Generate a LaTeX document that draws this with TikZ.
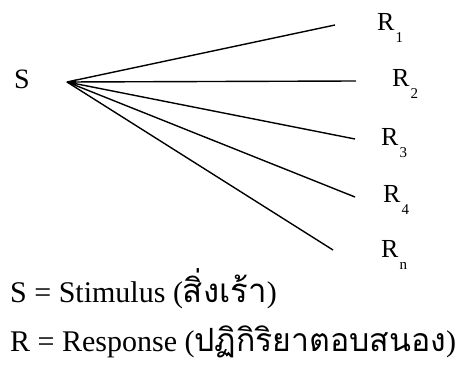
\documentclass[tikz,border=0pt]{standalone}
\usepackage{fontspec}
\setmainfont{Liberation Serif}
\newfontfamily\thaifont[Script=Thai]{Loma}
\newcommand{\rsub}[1]{\hspace{1pt}\raisebox{-0.45em}{\fontsize{15}{15}\selectfont #1}}
\begin{document}
\begin{tikzpicture}[x=1pt,y=-1pt,
  lbl/.style={font=\fontsize{26}{30}\selectfont, inner sep=0pt, anchor=base west},
  leg/.style={font=\fontsize{30}{34}\selectfont, inner sep=0pt, anchor=base west},
  ray/.style={line width=1.4pt}]
\useasboundingbox (0,0) rectangle (459,369);
\node[lbl, font=\fontsize{28}{32}\selectfont] (S) at (14,89) {S};
\coordinate (o) at (67,82);
\coordinate (e1) at (335,25);
\coordinate (e2) at (356,81);
\coordinate (e3) at (355,139);
\coordinate (e4) at (355,197);
\coordinate (e5) at (333,250);
\foreach \i in {1,...,5} \draw[ray] (o) -- (e\i);
\fill (o) -- ++(9,-2.5) -- ++(0,6) -- cycle;
\node[lbl] (R1) at (377,31) {R\rsub{1}};
\node[lbl] (R2) at (392,87) {R\rsub{2}};
\node[lbl] (R3) at (381,146) {R\rsub{3}};
\node[lbl] (R4) at (383,203) {R\rsub{4}};
\node[lbl] (Rn) at (381,258) {R\rsub{n}};
\node[leg] (l1) at (10,302) {S = Stimulus ({\thaifont\fontsize{33}{34}\selectfont สิ่งเร้า})};
\node[leg] (l2) at (10,352) {R = Response ({\thaifont\fontsize{32}{34}\selectfont ปฏิกิริยาตอบสนอง})};
\end{tikzpicture}
\end{document}
